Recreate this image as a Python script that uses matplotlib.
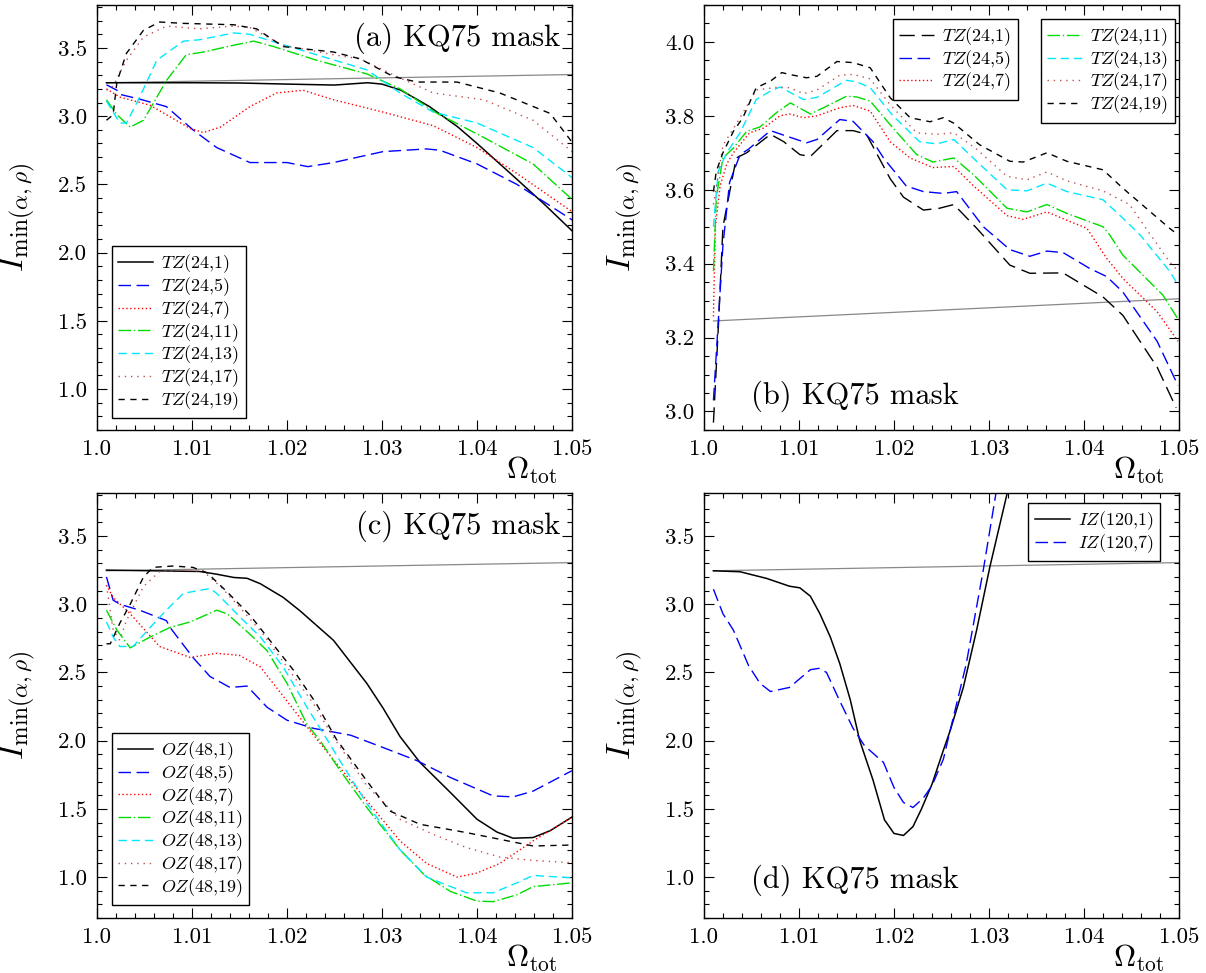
import matplotlib
matplotlib.use('Agg')
from matplotlib import pyplot as plt
from matplotlib.ticker import MultipleLocator
import numpy as np

plt.rcParams['font.family'] = 'serif'
plt.rcParams['font.serif'] = ['cmr10']
plt.rcParams['mathtext.fontset'] = 'cm'
plt.rcParams['axes.formatter.use_mathtext'] = True

# reference line (same in every panel)
ref_x = [1.001, 1.05]
ref_y = [3.245, 3.305]

xticks = [1.0, 1.01, 1.02, 1.03, 1.04, 1.05]
xtick_labels = ['1.0', '1.01', '1.02', '1.03', '1.04', '1.05']

# (a) TZ, KQ75 mask
a1_x = [1.001, 1.005, 1.010, 1.015, 1.020, 1.025, 1.0285, 1.030, 1.032, 1.035, 1.038, 1.040, 1.044, 1.047, 1.050]
a1_y = [3.245, 3.245, 3.245, 3.243, 3.235, 3.228, 3.245, 3.235, 3.19, 3.07, 2.92, 2.80, 2.55, 2.36, 2.16]
a5_x = [1.001, 1.0021, 1.0024, 1.0045, 1.0073, 1.0101, 1.0126, 1.0161, 1.020, 1.0222, 1.0249, 1.0301, 1.0347, 1.0361, 1.040, 1.0442, 1.050]
a5_y = [3.23, 3.19, 3.16, 3.125, 3.07, 2.90, 2.77, 2.66, 2.66, 2.63, 2.66, 2.74, 2.76, 2.75, 2.65, 2.50, 2.24]
a7_x = [1.001, 1.0024, 1.0056, 1.0098, 1.0112, 1.013, 1.0161, 1.0189, 1.0217, 1.0249, 1.0301, 1.0354, 1.040, 1.0442, 1.050]
a7_y = [3.20, 3.14, 3.08, 2.91, 2.88, 2.92, 3.07, 3.17, 3.19, 3.12, 3.03, 2.93, 2.77, 2.58, 2.30]
a11_x = [1.001, 1.0021, 1.0035, 1.0049, 1.0073, 1.0094, 1.0112, 1.0144, 1.0165, 1.0186, 1.0231, 1.0284, 1.0319, 1.0358, 1.040, 1.0459, 1.050]
a11_y = [3.12, 3.01, 2.92, 2.97, 3.26, 3.45, 3.47, 3.52, 3.55, 3.51, 3.41, 3.31, 3.20, 3.02, 2.87, 2.65, 2.39]
a13_x = [1.001, 1.0024, 1.0031, 1.0045, 1.0063, 1.0091, 1.0108, 1.0144, 1.0161, 1.0179, 1.0231, 1.0284, 1.0319, 1.0354, 1.040, 1.0459, 1.050]
a13_y = [3.11, 2.95, 2.95, 3.14, 3.41, 3.55, 3.56, 3.61, 3.60, 3.56, 3.45, 3.34, 3.17, 3.03, 2.95, 2.77, 2.55]
a17_x = [1.001, 1.0017, 1.0031, 1.0049, 1.0073, 1.0108, 1.0144, 1.0161, 1.0196, 1.0249, 1.0277, 1.0319, 1.0354, 1.0407, 1.0459, 1.050]
a17_y = [3.19, 3.22, 3.41, 3.58, 3.66, 3.64, 3.66, 3.65, 3.52, 3.45, 3.42, 3.28, 3.17, 3.12, 2.97, 2.74]
a19_x = [1.001, 1.0017, 1.0021, 1.0031, 1.0049, 1.0066, 1.0091, 1.0144, 1.0168, 1.0196, 1.0249, 1.0277, 1.0312, 1.0337, 1.0379, 1.0424, 1.0477, 1.050]
a19_y = [2.97, 3.01, 3.25, 3.46, 3.63, 3.69, 3.68, 3.67, 3.64, 3.51, 3.47, 3.42, 3.29, 3.25, 3.25, 3.17, 3.02, 2.81]

# (b) TZ, KQ75 mask (second set)
b1_x = [1.001, 1.0015, 1.002, 1.0034, 1.0045, 1.007, 1.0084, 1.0101, 1.0112, 1.014, 1.0157, 1.0171, 1.0196, 1.021, 1.0231, 1.0248, 1.0263, 1.0287, 1.0322, 1.0343, 1.0378, 1.042, 1.0441, 1.0477, 1.0497]
b1_y = [2.97, 3.22, 3.50, 3.686, 3.70, 3.75, 3.73, 3.695, 3.69, 3.76, 3.76, 3.75, 3.63, 3.58, 3.545, 3.55, 3.56, 3.496, 3.396, 3.374, 3.375, 3.31, 3.26, 3.12, 3.01]
b5_x = [1.001, 1.0015, 1.002, 1.0027, 1.0038, 1.0047, 1.007, 1.0087, 1.0108, 1.0119, 1.0143, 1.0157, 1.0178, 1.0189, 1.0213, 1.0231, 1.0252, 1.0266, 1.0294, 1.0322, 1.0343, 1.0361, 1.0378, 1.0406, 1.0424, 1.0441, 1.0477, 1.0499]
b5_y = [3.03, 3.24, 3.45, 3.62, 3.695, 3.71, 3.76, 3.745, 3.727, 3.736, 3.79, 3.785, 3.73, 3.686, 3.61, 3.595, 3.59, 3.595, 3.50, 3.438, 3.42, 3.434, 3.43, 3.387, 3.365, 3.323, 3.19, 3.07]
b7_x = [1.001, 1.0012, 1.0017, 1.0024, 1.0031, 1.0048, 1.0063, 1.008, 1.009, 1.0105, 1.0119, 1.0143, 1.0157, 1.0175, 1.0196, 1.0217, 1.0241, 1.0263, 1.0284, 1.0319, 1.0336, 1.0361, 1.0389, 1.0403, 1.0424, 1.0441, 1.0477, 1.0499]
b7_y = [3.257, 3.50, 3.61, 3.67, 3.70, 3.754, 3.767, 3.80, 3.805, 3.795, 3.80, 3.822, 3.828, 3.813, 3.73, 3.686, 3.66, 3.663, 3.61, 3.53, 3.52, 3.54, 3.51, 3.496, 3.414, 3.36, 3.27, 3.19]
b11_x = [1.001, 1.0013, 1.002, 1.0031, 1.0045, 1.0059, 1.0077, 1.0091, 1.0112, 1.0126, 1.015, 1.0161, 1.0175, 1.0199, 1.0224, 1.0241, 1.0263, 1.0284, 1.0319, 1.034, 1.0361, 1.0382, 1.042, 1.0427, 1.0441, 1.0483, 1.0499]
b11_y = [3.38, 3.58, 3.686, 3.713, 3.758, 3.77, 3.81, 3.835, 3.805, 3.822, 3.853, 3.851, 3.84, 3.767, 3.695, 3.675, 3.686, 3.64, 3.55, 3.54, 3.56, 3.536, 3.50, 3.478, 3.423, 3.315, 3.25]
b13_x = [1.001, 1.0015, 1.0024, 1.0038, 1.0055, 1.007, 1.008, 1.0105, 1.0119, 1.015, 1.0161, 1.0175, 1.0199, 1.0227, 1.0245, 1.0263, 1.0287, 1.0319, 1.034, 1.0361, 1.0382, 1.042, 1.0441, 1.0459, 1.049, 1.0499]
b13_y = [3.50, 3.65, 3.70, 3.754, 3.844, 3.867, 3.878, 3.844, 3.85, 3.896, 3.892, 3.876, 3.80, 3.73, 3.724, 3.736, 3.677, 3.60, 3.597, 3.618, 3.595, 3.573, 3.523, 3.478, 3.38, 3.343]
b17_x = [1.001, 1.002, 1.0038, 1.0055, 1.008, 1.009, 1.0105, 1.0119, 1.0143, 1.0157, 1.0175, 1.0196, 1.0224, 1.0245, 1.0263, 1.0287, 1.0319, 1.034, 1.0361, 1.0382, 1.042, 1.0448, 1.047, 1.049, 1.0499]
b17_y = [3.56, 3.72, 3.795, 3.87, 3.878, 3.876, 3.86, 3.87, 3.91, 3.912, 3.90, 3.83, 3.754, 3.75, 3.754, 3.71, 3.636, 3.627, 3.648, 3.624, 3.597, 3.56, 3.478, 3.405, 3.38]
b19_x = [1.001, 1.0013, 1.002, 1.0031, 1.0041, 1.0055, 1.007, 1.0082, 1.009, 1.0108, 1.0119, 1.014, 1.0157, 1.0175, 1.0196, 1.0217, 1.0238, 1.0252, 1.0263, 1.029, 1.0322, 1.0336, 1.0361, 1.0382, 1.042, 1.0441, 1.047, 1.049, 1.0499]
b19_y = [3.595, 3.65, 3.70, 3.758, 3.795, 3.876, 3.894, 3.917, 3.912, 3.903, 3.907, 3.947, 3.944, 3.93, 3.849, 3.795, 3.784, 3.795, 3.78, 3.722, 3.677, 3.675, 3.70, 3.677, 3.654, 3.604, 3.54, 3.496, 3.478]

# (c) OZ, KQ75 mask
c1_x = [1.001, 1.0108, 1.0126, 1.0144, 1.0158, 1.0172, 1.0196, 1.0214, 1.0249, 1.0284, 1.0301, 1.0319, 1.034, 1.0372, 1.040, 1.0421, 1.0438, 1.0459, 1.0477, 1.050]
c1_y = [3.25, 3.24, 3.22, 3.196, 3.19, 3.15, 3.05, 2.95, 2.735, 2.42, 2.24, 2.03, 1.84, 1.62, 1.424, 1.33, 1.285, 1.29, 1.34, 1.44]
c5_x = [1.001, 1.0017, 1.0024, 1.0045, 1.0073, 1.0078, 1.0101, 1.0119, 1.014, 1.0158, 1.0179, 1.020, 1.0228, 1.0267, 1.0301, 1.0337, 1.0372, 1.0417, 1.0438, 1.0459, 1.050]
c5_y = [3.20, 3.03, 3.0, 2.956, 2.88, 2.82, 2.61, 2.47, 2.39, 2.40, 2.245, 2.15, 2.09, 2.04, 1.95, 1.853, 1.73, 1.595, 1.588, 1.63, 1.78]
c7_x = [1.001, 1.0017, 1.0035, 1.0066, 1.0098, 1.0126, 1.015, 1.0172, 1.020, 1.0228, 1.0256, 1.0284, 1.0319, 1.0347, 1.0379, 1.040, 1.0424, 1.0459, 1.050]
c7_y = [3.14, 3.05, 2.93, 2.69, 2.61, 2.64, 2.625, 2.54, 2.29, 2.04, 1.80, 1.56, 1.265, 1.10, 1.0, 1.03, 1.10, 1.265, 1.44]
c11_x = [1.001, 1.0021, 1.0035, 1.0056, 1.0077, 1.0098, 1.0126, 1.0137, 1.0161, 1.0179, 1.020, 1.0221, 1.0235, 1.0256, 1.0284, 1.0319, 1.0344, 1.0372, 1.040, 1.0417, 1.0442, 1.0459, 1.050]
c11_y = [2.956, 2.81, 2.68, 2.76, 2.83, 2.87, 2.956, 2.93, 2.78, 2.66, 2.42, 2.12, 1.999, 1.78, 1.51, 1.20, 1.02, 0.895, 0.824, 0.82, 0.87, 0.93, 0.958]
c13_x = [1.001, 1.0017, 1.0024, 1.0038, 1.0056, 1.0073, 1.0091, 1.0119, 1.0126, 1.015, 1.0172, 1.0196, 1.0221, 1.0242, 1.0256, 1.0284, 1.0319, 1.0347, 1.0389, 1.0417, 1.0442, 1.0459, 1.050]
c13_y = [2.87, 2.76, 2.69, 2.69, 2.83, 2.956, 3.08, 3.115, 3.08, 2.91, 2.76, 2.54, 2.245, 2.01, 1.85, 1.54, 1.20, 1.0, 0.885, 0.885, 0.958, 1.012, 0.995]
c17_x = [1.001, 1.0017, 1.0024, 1.0031, 1.0049, 1.0066, 1.0091, 1.0112, 1.013, 1.015, 1.0175, 1.020, 1.0228, 1.0238, 1.0249, 1.0284, 1.0319, 1.0354, 1.0389, 1.0424, 1.0459, 1.050]
c17_y = [3.14, 2.81, 2.735, 2.88, 3.13, 3.24, 3.25, 3.24, 3.13, 2.98, 2.78, 2.54, 2.27, 2.15, 2.024, 1.67, 1.424, 1.313, 1.216, 1.147, 1.122, 1.105]
c19_x = [1.001, 1.0014, 1.0024, 1.0035, 1.0049, 1.0059, 1.008, 1.0101, 1.0116, 1.0137, 1.0161, 1.0182, 1.0207, 1.0231, 1.0252, 1.0284, 1.0308, 1.034, 1.0389, 1.0424, 1.0459, 1.050]
c19_y = [2.71, 2.71, 2.86, 3.0, 3.2, 3.27, 3.28, 3.27, 3.23, 3.09, 2.92, 2.735, 2.515, 2.27, 2.01, 1.705, 1.485, 1.387, 1.326, 1.277, 1.228, 1.235]

# (d) IZ, KQ75 mask
d1_x = [1.001, 1.0038, 1.0066, 1.009, 1.0101, 1.0112, 1.0122, 1.0133, 1.0143, 1.0154, 1.0164, 1.0178, 1.019, 1.020, 1.021, 1.022, 1.0229, 1.024, 1.0252, 1.0259, 1.0273, 1.0287, 1.0301, 1.032]
d1_y = [3.245, 3.238, 3.189, 3.132, 3.12, 3.059, 2.931, 2.76, 2.564, 2.30, 2.0, 1.71, 1.42, 1.32, 1.305, 1.37, 1.5, 1.68, 1.93, 2.07, 2.39, 2.81, 3.275, 3.838]
d7_x = [1.001, 1.002, 1.0031, 1.0047, 1.0059, 1.007, 1.009, 1.0112, 1.0121, 1.0129, 1.0143, 1.0157, 1.0169, 1.0189, 1.020, 1.021, 1.022, 1.0231, 1.024, 1.0252, 1.0259, 1.0276, 1.0294, 1.0308]
d7_y = [3.11, 2.93, 2.81, 2.55, 2.42, 2.36, 2.39, 2.52, 2.53, 2.50, 2.29, 2.09, 1.963, 1.84, 1.657, 1.547, 1.51, 1.58, 1.67, 1.864, 2.07, 2.56, 3.25, 3.84]

GREEN = '#00dd00'
CYAN = '#00e8ff'
BROWN = '#c05050'


def line(ax, xs, ys, label, color, dashes=None, lw=1.0):
	kw = dict(color=color, lw=lw, label=label)
	if dashes is not None:
		kw['dashes'] = dashes
	return ax.plot(xs, ys, **kw)


def style_axes(ax, ylim, ymajor, yminor, yfmt):
	ax.set_xlim(1.0, 1.05)
	ax.set_ylim(*ylim)
	ax.set_xticks(xticks, xtick_labels)
	ax.xaxis.set_minor_locator(MultipleLocator(0.002))
	ax.yaxis.set_major_locator(MultipleLocator(ymajor))
	ax.yaxis.set_minor_locator(MultipleLocator(yminor))
	ax.yaxis.set_major_formatter(plt.FuncFormatter(lambda v, p: yfmt % v))
	ax.tick_params(which='both', direction='in', top=True, right=True, labelsize=16.5, pad=7, width=0.8)
	ax.tick_params(which='major', length=7)
	ax.tick_params(which='minor', length=3.5)
	for s in ax.spines.values():
		s.set_linewidth(1.0)
	ax.set_ylabel(r'$I_{\min(\alpha,\rho)}$', fontsize=24)
	ax.yaxis.set_label_coords(-0.125, 0.5)
	ax.set_xlabel(r'$\Omega_{\rm tot}$', fontsize=22)
	ax.xaxis.set_label_coords(0.915, -0.058)
	ax.plot(ref_x, ref_y, color='#888888', lw=0.9, zorder=1)


def legend(ax, **kw):
	leg = ax.legend(fontsize=13, fancybox=False, framealpha=1, edgecolor='k',
	                handlelength=1.95, handletextpad=0.45, labelspacing=0.0,
	                borderpad=0.35, borderaxespad=0, **kw)
	leg.get_frame().set_linewidth(1.0)
	return leg


def main():
	fig = plt.figure(figsize=(12.06, 9.73), dpi=100)
	w, h = 0.3939, 0.4368
	ax_a = fig.add_axes([0.0804, 0.5581, w, h])
	ax_b = fig.add_axes([0.5837, 0.5581, w, h])
	ax_c = fig.add_axes([0.0804, 0.0565, w, h])
	ax_d = fig.add_axes([0.5837, 0.0565, w, h])

	# (a)
	style_axes(ax_a, (0.7, 3.815), 0.5, 0.1, '%.1f')
	line(ax_a, a1_x, a1_y, r'$TZ$(24,1)', 'k', lw=1.1)
	line(ax_a, a5_x, a5_y, r'$TZ$(24,5)', 'b', (9, 4))
	line(ax_a, a7_x, a7_y, r'$TZ$(24,7)', 'r', (1, 1.8))
	line(ax_a, a11_x, a11_y, r'$TZ$(24,11)', GREEN, (9, 2, 1, 2))
	line(ax_a, a13_x, a13_y, r'$TZ$(24,13)', CYAN, (6, 3.5))
	line(ax_a, a17_x, a17_y, r'$TZ$(24,17)', BROWN, (1, 3.5))
	line(ax_a, a19_x, a19_y, r'$TZ$(24,19)', 'k', (4.5, 4))
	legend(ax_a, loc='lower left', bbox_to_anchor=(0.031, 0.028))
	ax_a.text(0.975, 0.922, '(a) KQ75 mask', transform=ax_a.transAxes,
	          ha='right', va='center', fontsize=22)

	# (b)
	style_axes(ax_b, (2.95, 4.1), 0.2, 0.05, '%.1f')
	h1 = []
	h1 += line(ax_b, b1_x, b1_y, r'$TZ$(24,1)', 'k', (11, 5))
	h1 += line(ax_b, b5_x, b5_y, r'$TZ$(24,5)', 'b', (9, 4))
	h1 += line(ax_b, b7_x, b7_y, r'$TZ$(24,7)', 'r', (1, 1.8))
	h2 = []
	h2 += line(ax_b, b11_x, b11_y, r'$TZ$(24,11)', GREEN, (9, 2, 1, 2))
	h2 += line(ax_b, b13_x, b13_y, r'$TZ$(24,13)', CYAN, (6, 3.5))
	h2 += line(ax_b, b17_x, b17_y, r'$TZ$(24,17)', BROWN, (1, 3.5))
	h2 += line(ax_b, b19_x, b19_y, r'$TZ$(24,19)', 'k', (4.5, 4))
	leg1 = legend(ax_b, handles=h1, loc='upper right', bbox_to_anchor=(0.661, 0.967))
	ax_b.add_artist(leg1)
	legend(ax_b, handles=h2, loc='upper right', bbox_to_anchor=(0.9916, 0.967))
	ax_b.text(0.1, 0.08, '(b) KQ75 mask', transform=ax_b.transAxes,
	          ha='left', va='center', fontsize=22)

	# (c)
	style_axes(ax_c, (0.7, 3.815), 0.5, 0.1, '%.1f')
	line(ax_c, c1_x, c1_y, r'$OZ$(48,1)', 'k', lw=1.1)
	line(ax_c, c5_x, c5_y, r'$OZ$(48,5)', 'b', (9, 4))
	line(ax_c, c7_x, c7_y, r'$OZ$(48,7)', 'r', (1, 1.8))
	line(ax_c, c11_x, c11_y, r'$OZ$(48,11)', GREEN, (9, 2, 1, 2))
	line(ax_c, c13_x, c13_y, r'$OZ$(48,13)', CYAN, (6, 3.5))
	line(ax_c, c17_x, c17_y, r'$OZ$(48,17)', BROWN, (1, 3.5))
	line(ax_c, c19_x, c19_y, r'$OZ$(48,19)', 'k', (4.5, 4))
	legend(ax_c, loc='lower left', bbox_to_anchor=(0.031, 0.031))
	ax_c.text(0.975, 0.922, '(c) KQ75 mask', transform=ax_c.transAxes,
	          ha='right', va='center', fontsize=22)

	# (d)
	style_axes(ax_d, (0.7, 3.815), 0.5, 0.1, '%.1f')
	line(ax_d, d1_x, d1_y, r'$IZ$(120,1)', 'k', lw=1.1)
	line(ax_d, d7_x, d7_y, r'$IZ$(120,7)', 'b', (9, 4))
	legend(ax_d, loc='upper right', bbox_to_anchor=(0.96, 0.976))
	ax_d.text(0.1, 0.09, '(d) KQ75 mask', transform=ax_d.transAxes,
	          ha='left', va='center', fontsize=22)

	fig.savefig('out.png', dpi=100)


if __name__ == '__main__':
	main()
